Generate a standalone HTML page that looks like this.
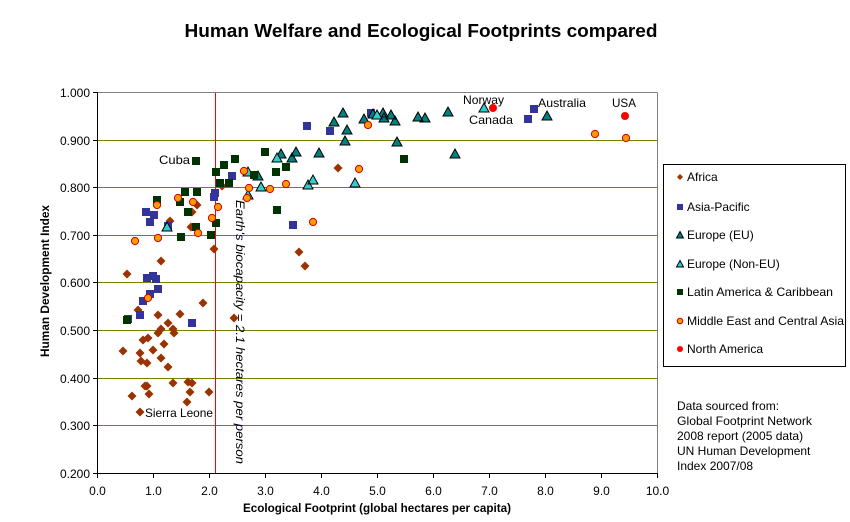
<!DOCTYPE html>
<html><head><meta charset="utf-8"><style>
html,body{margin:0;padding:0;background:#fff;}
svg{display:block;font-family:"Liberation Sans",Arial,sans-serif;}
</style></head><body>
<svg width="850" height="522" viewBox="0 0 850 522" xmlns="http://www.w3.org/2000/svg">
<rect width="850" height="522" fill="#fff"/>
<text x="421" y="37" font-size="18" font-weight="bold" text-anchor="middle" textLength="473" lengthAdjust="spacingAndGlyphs">Human Welfare and Ecological Footprints compared</text>

<!-- gridlines -->
<g stroke="#808000" stroke-width="1">
<line x1="97" y1="140.5" x2="657" y2="140.5"/>
<line x1="97" y1="187.5" x2="657" y2="187.5"/>
<line x1="97" y1="235.5" x2="657" y2="235.5"/>
<line x1="97" y1="282.5" x2="657" y2="282.5"/>
<line x1="97" y1="330.5" x2="657" y2="330.5"/>
<line x1="97" y1="378.5" x2="657" y2="378.5"/>
<line x1="97" y1="425.5" x2="657" y2="425.5"/>
</g>
<g stroke="#808080" stroke-width="1">
<line x1="97" y1="92.5" x2="657.5" y2="92.5"/>
<line x1="657.5" y1="92.5" x2="657.5" y2="473"/>
</g>
<!-- axes -->
<g stroke="#000" stroke-width="1">
<line x1="97.5" y1="92" x2="97.5" y2="473.5"/>
<line x1="97" y1="473.5" x2="658" y2="473.5"/>
<line x1="93" y1="92.5" x2="97" y2="92.5"/>
<line x1="93" y1="140.5" x2="97" y2="140.5"/>
<line x1="93" y1="187.5" x2="97" y2="187.5"/>
<line x1="93" y1="235.5" x2="97" y2="235.5"/>
<line x1="93" y1="282.5" x2="97" y2="282.5"/>
<line x1="93" y1="330.5" x2="97" y2="330.5"/>
<line x1="93" y1="378.5" x2="97" y2="378.5"/>
<line x1="93" y1="425.5" x2="97" y2="425.5"/>
<line x1="93" y1="473.5" x2="97" y2="473.5"/>
<line x1="97.5" y1="473" x2="97.5" y2="478"/>
<line x1="153.5" y1="473" x2="153.5" y2="478"/>
<line x1="209.5" y1="473" x2="209.5" y2="478"/>
<line x1="265.5" y1="473" x2="265.5" y2="478"/>
<line x1="321.5" y1="473" x2="321.5" y2="478"/>
<line x1="377.5" y1="473" x2="377.5" y2="478"/>
<line x1="433.5" y1="473" x2="433.5" y2="478"/>
<line x1="489.5" y1="473" x2="489.5" y2="478"/>
<line x1="545.5" y1="473" x2="545.5" y2="478"/>
<line x1="601.5" y1="473" x2="601.5" y2="478"/>
<line x1="657.5" y1="473" x2="657.5" y2="478"/>
</g>

<!-- y tick labels -->
<g font-size="12" text-anchor="end" fill="#000">
<text x="90" y="97">1.000</text>
<text x="90" y="145">0.900</text>
<text x="90" y="192">0.800</text>
<text x="90" y="240">0.700</text>
<text x="90" y="287">0.600</text>
<text x="90" y="335">0.500</text>
<text x="90" y="383">0.400</text>
<text x="90" y="430">0.300</text>
<text x="90" y="478">0.200</text>
</g>
<!-- x tick labels -->
<g font-size="12" text-anchor="middle" fill="#000">
<text x="97.5" y="495">0.0</text>
<text x="153.5" y="495">1.0</text>
<text x="209.5" y="495">2.0</text>
<text x="265.5" y="495">3.0</text>
<text x="321.5" y="495">4.0</text>
<text x="377.5" y="495">5.0</text>
<text x="433.5" y="495">6.0</text>
<text x="489.5" y="495">7.0</text>
<text x="545.5" y="495">8.0</text>
<text x="601.5" y="495">9.0</text>
<text x="657.5" y="495">10.0</text>
</g>
<text x="377" y="512" font-size="12" font-weight="bold" text-anchor="middle" textLength="268" lengthAdjust="spacingAndGlyphs">Ecological Footprint (global hectares per capita)</text>
<text transform="translate(49,281) rotate(-90)" x="0" y="0" font-size="12" font-weight="bold" text-anchor="middle" textLength="152" lengthAdjust="spacingAndGlyphs">Human Development Index</text>

<!-- red biocapacity line -->
<line x1="215.5" y1="93" x2="215.5" y2="473" stroke="#FF0000" stroke-width="1"/>
<text transform="translate(236,332) rotate(90)" x="0" y="0" font-size="12" font-style="italic" text-anchor="middle" textLength="264" lengthAdjust="spacingAndGlyphs">Earth's biocapacity = 2.1 hectares per person</text>

<!-- Africa -->
<path fill="#993300" d="M222 181.5l4.5 4.5-4.5 4.5-4.5-4.5zM197 200.5l4.5 4.5-4.5 4.5-4.5-4.5zM192 207.5l4.5 4.5-4.5 4.5-4.5-4.5zM170 216.5l4.5 4.5-4.5 4.5-4.5-4.5zM191 222.5l4.5 4.5-4.5 4.5-4.5-4.5zM214 244.5l4.5 4.5-4.5 4.5-4.5-4.5zM161 256.5l4.5 4.5-4.5 4.5-4.5-4.5zM127 269.5l4.5 4.5-4.5 4.5-4.5-4.5zM203 298.5l4.5 4.5-4.5 4.5-4.5-4.5zM138 305.5l4.5 4.5-4.5 4.5-4.5-4.5zM158 310.5l4.5 4.5-4.5 4.5-4.5-4.5zM180 309.5l4.5 4.5-4.5 4.5-4.5-4.5zM168 318.5l4.5 4.5-4.5 4.5-4.5-4.5zM234 313.5l4.5 4.5-4.5 4.5-4.5-4.5zM161 324.5l4.5 4.5-4.5 4.5-4.5-4.5zM158 328.5l4.5 4.5-4.5 4.5-4.5-4.5zM173 324.5l4.5 4.5-4.5 4.5-4.5-4.5zM174 328.5l4.5 4.5-4.5 4.5-4.5-4.5zM143 335.5l4.5 4.5-4.5 4.5-4.5-4.5zM148 333.5l4.5 4.5-4.5 4.5-4.5-4.5zM164 339.5l4.5 4.5-4.5 4.5-4.5-4.5zM123 346.5l4.5 4.5-4.5 4.5-4.5-4.5zM140 348.5l4.5 4.5-4.5 4.5-4.5-4.5zM153 345.5l4.5 4.5-4.5 4.5-4.5-4.5zM161 353.5l4.5 4.5-4.5 4.5-4.5-4.5zM141 356.5l4.5 4.5-4.5 4.5-4.5-4.5zM147 358.5l4.5 4.5-4.5 4.5-4.5-4.5zM168 362.5l4.5 4.5-4.5 4.5-4.5-4.5zM173 378.5l4.5 4.5-4.5 4.5-4.5-4.5zM145 381.5l4.5 4.5-4.5 4.5-4.5-4.5zM147 381.5l4.5 4.5-4.5 4.5-4.5-4.5zM188 377.5l4.5 4.5-4.5 4.5-4.5-4.5zM192 378.5l4.5 4.5-4.5 4.5-4.5-4.5zM190 387.5l4.5 4.5-4.5 4.5-4.5-4.5zM209 387.5l4.5 4.5-4.5 4.5-4.5-4.5zM132 391.5l4.5 4.5-4.5 4.5-4.5-4.5zM149 389.5l4.5 4.5-4.5 4.5-4.5-4.5zM187 397.5l4.5 4.5-4.5 4.5-4.5-4.5zM140 407.5l4.5 4.5-4.5 4.5-4.5-4.5zM299 247.5l4.5 4.5-4.5 4.5-4.5-4.5zM305 261.5l4.5 4.5-4.5 4.5-4.5-4.5zM338 163.5l4.5 4.5-4.5 4.5-4.5-4.5z"/>

<!-- Asia-Pacific -->
<path fill="#333399" d="M228 172h8v8h-8zM211 189h8v8h-8zM210 193h8v8h-8zM142 208h8v8h-8zM150 211h8v8h-8zM146 218h8v8h-8zM164 222h8v8h-8zM143 274h8v8h-8zM149 272h8v8h-8zM152 275h8v8h-8zM154 285h8v8h-8zM146 290h8v8h-8zM139 297h8v8h-8zM136 311h8v8h-8zM124 315h8v8h-8zM188 319h8v8h-8zM303 122h8v8h-8zM326 127h8v8h-8zM289 221h8v8h-8zM367 109h8v8h-8zM524 115h8v8h-8zM530 105h8v8h-8z"/>

<!-- Europe EU -->
<path fill="#008080" stroke="#000" stroke-width="1" stroke-linejoin="miter" d="M258 171l5 9h-10zM281 149l5 9h-10zM296 147l5 9h-10zM292 153l5 9h-10zM319 148l5 9h-10zM334 117l5 9h-10zM343 108l5 9h-10zM347 125l5 9h-10zM345 136l5 9h-10zM364 114l5 9h-10zM373 109l5 9h-10zM383 108l5 9h-10zM384 113l5 9h-10zM391 110l5 9h-10zM395 116l5 9h-10zM418 112l5 9h-10zM425 113l5 9h-10zM448 107l5 9h-10zM397 137l5 9h-10zM455 149l5 9h-10zM547 111l5 9h-10z"/>

<!-- Europe Non-EU -->
<path fill="#33CCCC" stroke="#000" stroke-width="1" d="M167 222l5 9h-10zM248 167l5 9h-10zM261 182l5 9h-10zM248 190l5 9h-10zM277 153l5 9h-10zM308 180l5 9h-10zM313 175l5 9h-10zM377 110l5 9h-10zM355 178l5 9h-10zM484 103l5 9h-10z"/>

<!-- Latin America -->
<path fill="#003300" d="M192 157h8v8h-8zM231 155h8v8h-8zM261 148h8v8h-8zM220 161h8v8h-8zM212 168h8v8h-8zM250 171h8v8h-8zM216 179h8v8h-8zM225 179h8v8h-8zM181 188h8v8h-8zM193 188h8v8h-8zM153 196h8v8h-8zM176 198h8v8h-8zM184 208h8v8h-8zM212 219h8v8h-8zM192 223h8v8h-8zM177 233h8v8h-8zM207 231h8v8h-8zM272 168h8v8h-8zM282 163h8v8h-8zM273 206h8v8h-8zM400 155h8v8h-8zM123 316h8v8h-8z"/>

<!-- Middle East and Central Asia -->
<g fill="#FF9900" stroke="#CC0000" stroke-width="1">
<circle cx="244" cy="171" r="3.6"/><circle cx="249" cy="188" r="3.6"/><circle cx="270" cy="189" r="3.6"/><circle cx="247" cy="198" r="3.6"/><circle cx="178" cy="198" r="3.6"/><circle cx="193" cy="202" r="3.6"/><circle cx="157" cy="205" r="3.6"/><circle cx="218" cy="207" r="3.6"/><circle cx="212" cy="218" r="3.6"/><circle cx="198" cy="233" r="3.6"/><circle cx="158" cy="238" r="3.6"/><circle cx="135" cy="241" r="3.6"/><circle cx="148" cy="298" r="3.6"/><circle cx="286" cy="184" r="3.6"/><circle cx="313" cy="222" r="3.6"/><circle cx="368" cy="125" r="3.6"/><circle cx="359" cy="169" r="3.6"/><circle cx="595" cy="134" r="3.6"/><circle cx="626" cy="138" r="3.6"/>
</g>
<!-- North America -->
<g fill="#FF0000">
<circle cx="493" cy="108" r="4"/><circle cx="625" cy="116" r="4"/>
</g>

<!-- point labels -->
<g font-size="12" fill="#000">
<text x="463" y="104" textLength="41" lengthAdjust="spacingAndGlyphs">Norway</text>
<text x="469" y="124" textLength="44" lengthAdjust="spacingAndGlyphs">Canada</text>
<text x="538" y="107" textLength="48" lengthAdjust="spacingAndGlyphs">Australia</text>
<text x="612" y="107" textLength="24" lengthAdjust="spacingAndGlyphs">USA</text>
<text x="159" y="164" textLength="31" lengthAdjust="spacingAndGlyphs">Cuba</text>
<text x="145" y="417" textLength="68" lengthAdjust="spacingAndGlyphs">Sierra Leone</text>
</g>

<!-- legend -->
<rect x="663.5" y="164.5" width="182" height="202" fill="#fff" stroke="#000" stroke-width="1"/>
<path fill="#993300" d="M680 174l3 3-3 3-3-3z"/>
<rect x="677" y="204" width="6" height="6" fill="#333399"/>
<path fill="#008080" stroke="#000" stroke-width="1" d="M680 231.5l3.5 6.5h-7z"/>
<path fill="#33CCCC" stroke="#000" stroke-width="1" d="M680 260.5l3.5 6.5h-7z"/>
<rect x="677" y="289" width="6" height="6" fill="#003300"/>
<circle cx="680" cy="321" r="2.8" fill="#FF9900" stroke="#CC0000" stroke-width="1"/>
<circle cx="680" cy="349" r="3" fill="#FF0000"/>
<g font-size="12" fill="#000">
<text x="687" y="181">Africa</text>
<text x="687" y="211">Asia-Pacific</text>
<text x="687" y="239">Europe (EU)</text>
<text x="687" y="268">Europe (Non-EU)</text>
<text x="687" y="296" textLength="146" lengthAdjust="spacingAndGlyphs">Latin America &amp; Caribbean</text>
<text x="687" y="325" textLength="157" lengthAdjust="spacingAndGlyphs">Middle East and Central Asia</text>
<text x="687" y="353">North America</text>
</g>

<!-- source -->
<g font-size="12" fill="#000">
<text x="677" y="410">Data sourced from:</text>
<text x="677" y="425" textLength="135" lengthAdjust="spacingAndGlyphs">Global Footprint Network</text>
<text x="677" y="440">2008 report (2005 data)</text>
<text x="677" y="455">UN Human Development</text>
<text x="677" y="470">Index 2007/08</text>
</g>
</svg>
</body></html>
